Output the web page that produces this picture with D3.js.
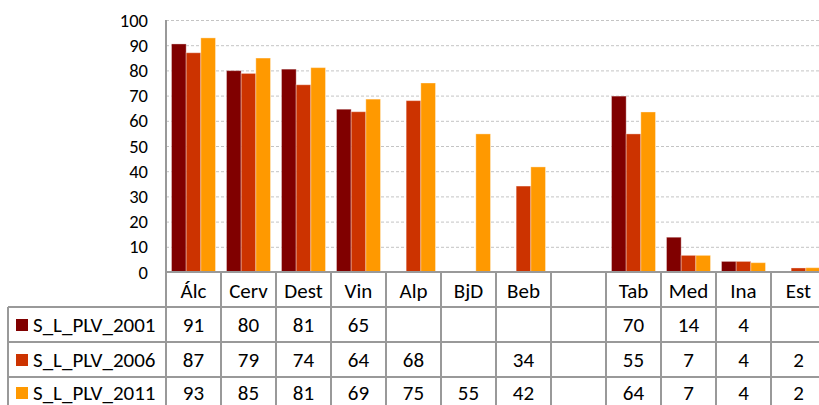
<!DOCTYPE html>
<html>
<head>
<meta charset="utf-8">
<script src="https://cdn.jsdelivr.net/npm/d3@7"></script>
<style>
  html, body { margin: 0; padding: 0; background: #fff; }
  svg { display: block; font-family: Carlito, Lato, "Open Sans", sans-serif; }
</style>
</head>
<body>
<svg id="chart" width="819" height="405"></svg>
<script>
const categories = ["Álc", "Cerv", "Dest", "Vin", "Alp", "BjD", "Beb", "", "Tab", "Med", "Ina", "Est"];
const seriesNames = ["S_L_PLV_2001", "S_L_PLV_2006", "S_L_PLV_2011"];
const seriesColors = ["#800000", "#CC3300", "#FF9900"];
const values2001 = [90.5, 79.9, 80.5, 64.6, null, null, null, null, 69.8, 13.8, 4.2, null];
const values2006 = [87.0, 78.8, 74.3, 63.6, 68.0, null, 34.1, null, 54.8, 6.6, 4.2, 1.6];
const values2011 = [92.9, 84.9, 81.1, 68.6, 75.0, 54.8, 41.7, null, 63.5, 6.6, 3.7, 1.7];
const yTicks = [0, 10, 20, 30, 40, 50, 60, 70, 80, 90, 100];

(function () {
const series = [values2001, values2006, values2011];

const svg = d3.select("#chart");
const pLeft = 166, pRight = 826, pTop = 20, pBottom = 272;
const rowH = 35;
const gridColor = "#999999";
const tableFont = 21;
const rowCenters = [325, 360, 393];

const xCol = d3.scaleBand().domain(categories.map((c, i) => i)).range([pLeft, pRight]).padding(0);
const xBand = d3.scaleBand().domain(categories.map((c, i) => i)).range([pLeft, pRight])
  .paddingInner(0.2).paddingOuter(0.1);
const xSub = d3.scaleBand().domain([0, 1, 2]).range([0, xBand.bandwidth()]);
const y = d3.scaleLinear().domain([0, 100]).range([pBottom, pTop]);

// gridlines
svg.append("g").selectAll("line").data(yTicks.filter(t => t > 0)).join("line")
  .attr("x1", pLeft).attr("x2", 819)
  .attr("y1", d => y(d) + 0.5).attr("y2", d => y(d) + 0.5)
  .attr("stroke", "#c4c4c4").attr("stroke-width", 1).attr("stroke-dasharray", "3,2");

// y tick labels
svg.append("g").selectAll("text").data(yTicks).join("text")
  .attr("x", 148).attr("y", d => y(d))
  .attr("text-anchor", "end").attr("dominant-baseline", "central")
  .attr("font-size", 18.5).attr("fill", "#000")
  .text(d => d);

// bars
const barData = [];
series.forEach((vals, s) => vals.forEach((v, i) => { if (v != null) barData.push({ s, i, v }); }));
svg.append("g").selectAll("rect").data(barData).join("rect")
  .attr("x", d => xBand(d.i) + xSub(d.s))
  .attr("width", xSub.bandwidth())
  .attr("y", d => y(d.v))
  .attr("height", d => y(0) - y(d.v))
  .attr("fill", d => seriesColors[d.s])
  .attr("stroke", "#fff").attr("stroke-opacity", 0.35).attr("stroke-width", 1);

// table
const tg = svg.append("g");
tg.append("line").attr("x1", pLeft).attr("x2", pLeft).attr("y1", pTop).attr("y2", pBottom + rowH * 4)
  .attr("stroke", gridColor).attr("stroke-width", 2);
tg.append("line").attr("x1", pLeft).attr("x2", 819).attr("y1", pBottom).attr("y2", pBottom)
  .attr("stroke", gridColor).attr("stroke-width", 2);
[1, 2, 3].forEach(r => {
  tg.append("line").attr("x1", 8).attr("x2", 819)
    .attr("y1", pBottom + rowH * r).attr("y2", pBottom + rowH * r)
    .attr("stroke", gridColor).attr("stroke-width", 2);
});
tg.append("line").attr("x1", 8).attr("x2", 8).attr("y1", pBottom + rowH).attr("y2", pBottom + rowH * 4)
  .attr("stroke", gridColor).attr("stroke-width", 2);
categories.forEach((c, i) => {
  if (i === 0) return;
  tg.append("line").attr("x1", xCol(i)).attr("x2", xCol(i))
    .attr("y1", pBottom).attr("y2", pBottom + rowH * 4)
    .attr("stroke", gridColor).attr("stroke-width", 2);
});

tg.append("g").selectAll("text").data(categories).join("text")
  .attr("x", (d, i) => xCol(i) + xCol.bandwidth() / 2)
  .attr("y", pBottom + rowH / 2 + 1)
  .attr("text-anchor", "middle").attr("dominant-baseline", "central")
  .attr("font-size", tableFont).attr("fill", "#000")
  .text(d => d);

series.forEach((vals, s) => {
  const cy = rowCenters[s];
  tg.append("rect").attr("x", 16).attr("y", cy - 6).attr("width", 12).attr("height", 12)
    .attr("fill", seriesColors[s]);
  tg.append("text").attr("x", 33).attr("y", cy)
    .attr("dominant-baseline", "central").attr("font-size", tableFont).attr("fill", "#000")
    .text(seriesNames[s]);
  tg.append("g").selectAll("text").data(vals.map((v, i) => ({ v, i })).filter(d => d.v != null)).join("text")
    .attr("x", d => xCol(d.i) + xCol.bandwidth() / 2)
    .attr("y", cy)
    .attr("text-anchor", "middle").attr("dominant-baseline", "central")
    .attr("font-size", tableFont).attr("fill", "#000")
    .text(d => Math.round(d.v));
});
})();
</script>
</body>
</html>
